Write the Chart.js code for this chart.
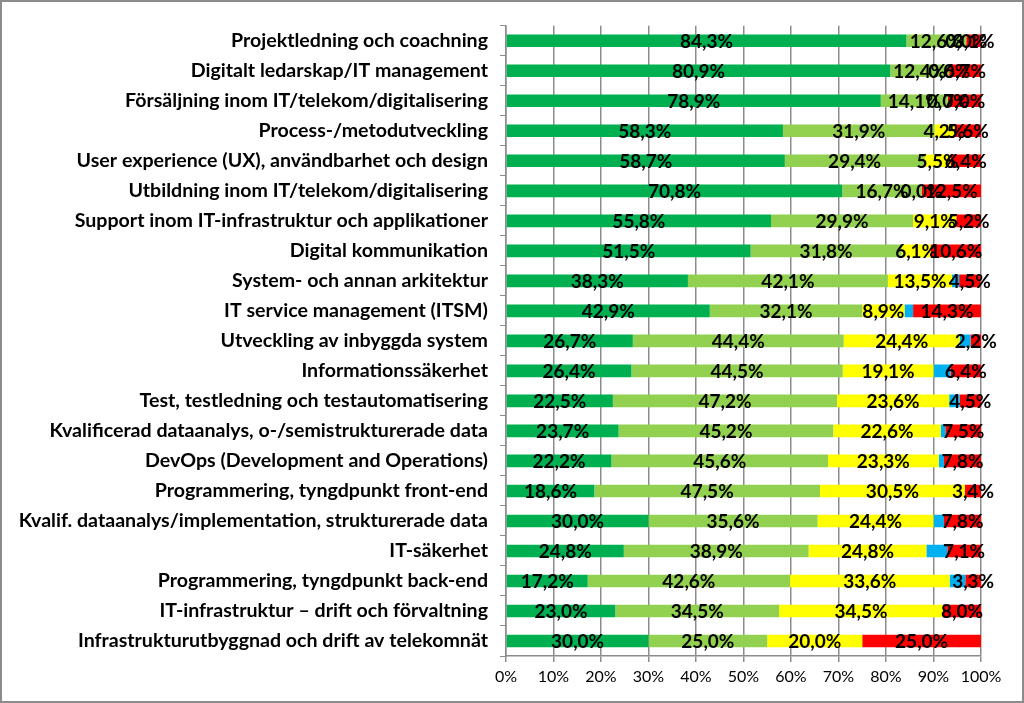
<!DOCTYPE html>
<html>
<head>
<meta charset="utf-8">
<script src="https://cdn.jsdelivr.net/npm/chart.js@4/dist/chart.umd.min.js"></script>
<style>
  html, body { margin: 0; padding: 0; background: #fff; }
  #wrap { position: relative; width: 1024px; height: 703px; box-sizing: border-box; border: 2px solid #8c8c8c; }
  canvas { display: block; }
</style>
</head>
<body>
<div id="wrap"><canvas id="myChart" width="1020" height="699"></canvas></div>
<script>
// categories, top to bottom
const categories = [
  "Projektledning och coachning",
  "Digitalt ledarskap/IT management",
  "Försäljning inom IT/telekom/digitalisering",
  "Process-/metodutveckling",
  "User experience (UX), användbarhet och design",
  "Utbildning inom IT/telekom/digitalisering",
  "Support inom IT-infrastruktur och applikationer",
  "Digital kommunikation",
  "System- och annan arkitektur",
  "IT service management (ITSM)",
  "Utveckling av inbyggda system",
  "Informationssäkerhet",
  "Test, testledning och testautomatisering",
  "Kvalificerad dataanalys, o-/semistrukturerade data",
  "DevOps (Development and Operations)",
  "Programmering, tyngdpunkt front-end",
  "Kvalif. dataanalys/implementation, strukturerade data",
  "IT-säkerhet",
  "Programmering, tyngdpunkt back-end",
  "IT-infrastruktur – drift och förvaltning",
  "Infrastrukturutbyggnad och drift av telekomnät"
];

const darkGreen  = [84.3, 80.9, 78.9, 58.3, 58.7, 70.8, 55.8, 51.5, 38.3, 42.9, 26.7, 26.4, 22.5, 23.7, 22.2, 18.6, 30.0, 24.8, 17.2, 23.0, 30.0];
const lightGreen = [12.6, 12.4, 14.1, 31.9, 29.4, 16.7, 29.9, 31.8, 42.1, 32.1, 44.4, 44.5, 47.2, 45.2, 45.6, 47.5, 35.6, 38.9, 42.6, 34.5, 25.0];
const yellow     = [0.0, 0.0, 0.0, 4.2, 5.5, 0.0, 9.1, 6.1, 13.5, 8.9, 24.4, 19.1, 23.6, 22.6, 23.3, 30.5, 24.4, 24.8, 33.6, 34.5, 20.0];
const blue       = [0.0, 0.0, 0.0, 0.0, 0.0, 0.0, 0.0, 0.0, 1.5, 1.8, 2.3, 3.6, 2.2, 1.0, 1.1, 0.0, 2.2, 4.4, 3.3, 0.0, 0.0];
const red        = [3.1, 6.7, 7.0, 5.6, 6.4, 12.5, 5.2, 10.6, 4.5, 14.3, 2.2, 6.4, 4.5, 7.5, 7.8, 3.4, 7.8, 7.1, 3.3, 8.0, 25.0];

const FONT = "Lato, 'Open Sans', sans-serif";

// labels in the middle of each segment (blue series has none)
const barLabels = {
  id: 'barLabels',
  afterDatasetsDraw(chart) {
    const ctx = chart.ctx;
    ctx.save();
    ctx.font = "bold 19px " + FONT;
    ctx.fillStyle = "#000";
    ctx.textAlign = "center";
    ctx.textBaseline = "middle";
    chart.data.datasets.forEach((ds, i) => {
      if (ds.noLabels) return;
      chart.getDatasetMeta(i).data.forEach((bar, j) => {
        const p = bar.getProps(['x', 'y', 'base'], true);
        const txt = ds.data[j].toFixed(1).replace('.', ',') + '%';
        ctx.fillText(txt, (p.x + p.base) / 2, p.y + 1);
      });
    });
    ctx.restore();
  }
};

new Chart(document.getElementById('myChart'), {
  type: 'bar',
  data: {
    labels: categories,
    datasets: [
      { data: darkGreen, backgroundColor: '#00B050' },
      { data: lightGreen, backgroundColor: '#92D050' },
      { data: yellow, backgroundColor: '#FFFF00' },
      { data: blue, backgroundColor: '#00B0F0', noLabels: true },
      { data: red, backgroundColor: '#FF0000' }
    ]
  },
  options: {
    indexAxis: 'y',
    responsive: false,
    animation: false,
    layout: { padding: { top: 20, right: 41, bottom: 0, left: 0 } },
    plugins: { legend: { display: false }, tooltip: { enabled: false } },
    datasets: { bar: { barPercentage: 0.42, categoryPercentage: 1 } },
    scales: {
      x: {
        stacked: true,
        min: 0, max: 100,
        ticks: { stepSize: 10, callback: v => v + '%', color: '#000', font: { family: FONT, size: 16 }, padding: 5 },
        grid: { color: '#8c8c8c', lineWidth: 1.5, tickLength: 6 },
        border: { color: '#8c8c8c', width: 1.5 },
        afterFit: s => { s.height = 45; }
      },
      y: {
        stacked: true,
        ticks: { color: '#000', font: { family: FONT, size: 19.6, weight: 'bold' }, padding: 12, autoSkip: false },
        grid: { drawOnChartArea: false, offset: true, color: '#8c8c8c', tickLength: 6 },
        border: { color: '#8c8c8c', width: 1.5 },
        afterFit: s => { s.width = 504; }
      }
    }
  },
  plugins: [barLabels]
});
</script>
</body>
</html>
